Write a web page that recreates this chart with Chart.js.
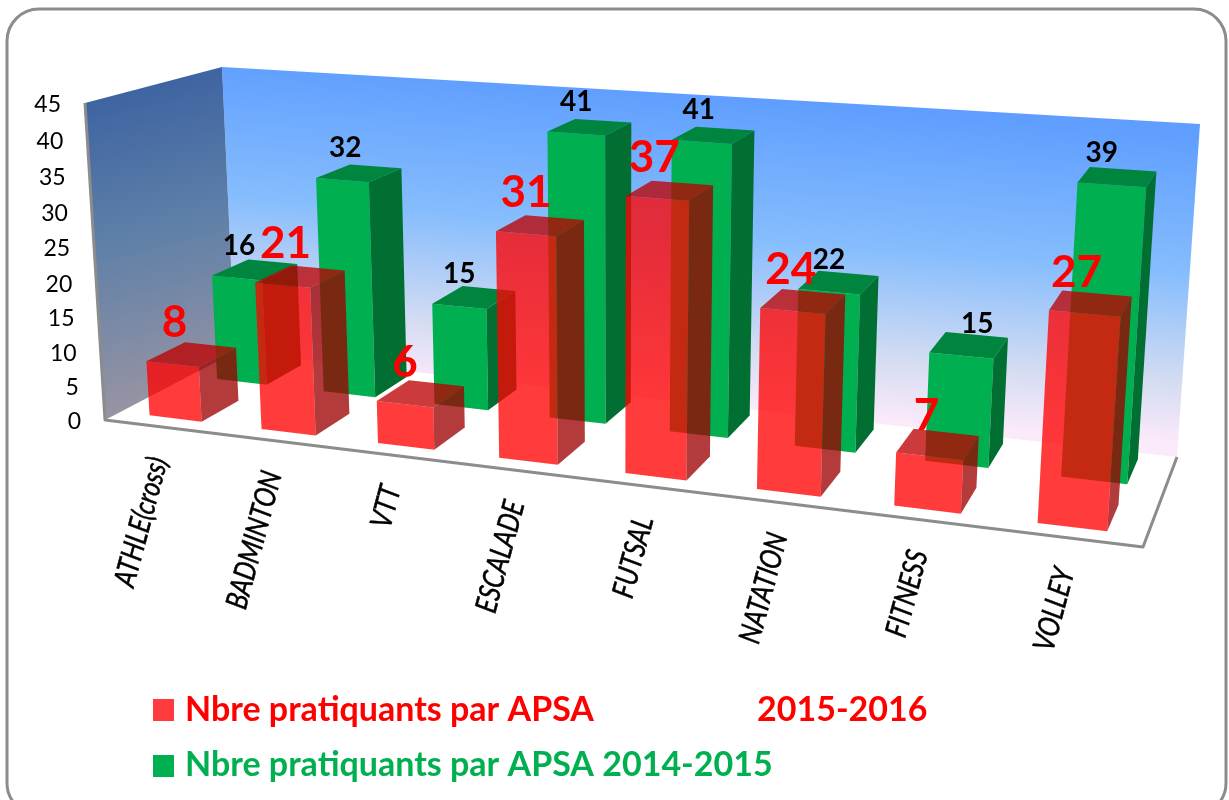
<!DOCTYPE html>
<html>
<head>
<meta charset="utf-8">
<title>Nbre pratiquants par APSA</title>
<script src="https://cdn.jsdelivr.net/npm/chart.js@4/dist/chart.umd.min.js"></script>
<style>
  html, body { margin: 0; padding: 0; background: #fff; overflow: hidden; }
  canvas { display: block; }
</style>
</head>
<body>
<canvas id="apsaChart" width="1229" height="800"></canvas>
<script>
// =============================
// DATA
// =============================
const categories = ["ATHLE(cross)", "BADMINTON", "VTT", "ESCALADE", "FUTSAL", "NATATION", "FITNESS", "VOLLEY"];
const pratiquants2016 = [8, 21, 6, 31, 37, 24, 7, 27];
const pratiquants2015 = [16, 32, 15, 41, 41, 22, 15, 39];
const legendText2016 = ["Nbre pratiquants par APSA", "2015-2016"];
const legendText2015 = ["Nbre pratiquants par APSA 2014-2015"];

// =============================
// 3D BOX (screen corners of the plot box)
// order: bottom-left, bottom-right, top-right, top-left
// =============================
const FRONT_PLANE = [[105, 420], [1143, 547], [1168, 176], [85, 103]];
const BACK_PLANE = [[235, 352], [1177, 457], [1200, 124], [222, 67]];

// depth of each series inside the box, 0 = front, 1 = back wall
const DEPTH_RED = [0.12, 0.42];
const DEPTH_GREEN = [0.65, 0.93];

const FONT = "Lato, 'Open Sans', sans-serif";

function squareToQuad(q) {
  const [[x0, y0], [x1, y1], [x2, y2], [x3, y3]] = q;
  const sx = x0 - x1 + x2 - x3, sy = y0 - y1 + y2 - y3;
  const dx1 = x1 - x2, dx2 = x3 - x2, dy1 = y1 - y2, dy2 = y3 - y2;
  const det = dx1 * dy2 - dx2 * dy1;
  const g = (sx * dy2 - dx2 * sy) / det;
  const h = (dx1 * sy - sx * dy1) / det;
  const a = x1 - x0 + g * x1, b = x3 - x0 + h * x3;
  const d = y1 - y0 + g * y1, e = y3 - y0 + h * y3;
  return (u, v) => {
    const w = g * u + h * v + 1;
    return [(a * u + b * v + x0) / w, (d * u + e * v + y0) / w];
  };
}
const frontMap = squareToQuad(FRONT_PLANE);
const backMap = squareToQuad(BACK_PLANE);

// chart-area pixel + depth -> screen pixel
function project(area, px, py, z) {
  const u = (px - area.left) / (area.right - area.left);
  const v = (area.bottom - py) / (area.bottom - area.top);
  const f = frontMap(u, v), b = backMap(u, v);
  return [f[0] + (b[0] - f[0]) * z, f[1] + (b[1] - f[1]) * z];
}

function poly(ctx, pts, fill) {
  ctx.beginPath();
  pts.forEach((p, i) => i ? ctx.lineTo(p[0], p[1]) : ctx.moveTo(p[0], p[1]));
  ctx.closePath();
  ctx.fillStyle = fill;
  ctx.fill();
}

function drawFrame(ctx) {
  ctx.save();
  ctx.beginPath();
  ctx.roundRect(7, 9, 1219, 806, 32);
  ctx.fillStyle = "#fff";
  ctx.fill();
  ctx.lineWidth = 3;
  ctx.strokeStyle = "#8c8c8c";
  ctx.stroke();
  ctx.restore();
}

function drawWalls(ctx) {
  const [fBL, fBR, , fTL] = FRONT_PLANE;
  const [bBL, bBR, bTR, bTL] = BACK_PLANE;

  let g = ctx.createLinearGradient(711, 95, 686, 405);
  g.addColorStop(0, "#5f9eff");
  g.addColorStop(0.45, "#86bdfd");
  g.addColorStop(0.8, "#d4dcf2");
  g.addColorStop(1, "#fbeafa");
  poly(ctx, [bBL, bBR, bTR, bTL], g);

  g = ctx.createLinearGradient(130, 90, 210, 400);
  g.addColorStop(0, "#3e64a2");
  g.addColorStop(0.45, "#5f80a8");
  g.addColorStop(1, "#9b95a3");
  poly(ctx, [fBL, bBL, bTL, fTL], g);

  ctx.save();
  ctx.strokeStyle = "#8c8c8c";
  ctx.lineWidth = 3;
  ctx.lineJoin = "round";
  ctx.beginPath();
  ctx.moveTo(fTL[0], fTL[1]);
  ctx.lineTo(fBL[0], fBL[1]);
  ctx.lineTo(fBR[0], fBR[1]);
  ctx.lineTo(bBR[0], bBR[1]);
  ctx.stroke();
  ctx.restore();
}

function drawBox(ctx, area, bar, depth, colors) {
  const x0 = bar.x - bar.width / 2, x1 = bar.x + bar.width / 2;
  const P = (x, y, z) => project(area, x, y, z);
  const [zf, zb] = depth;
  poly(ctx, [P(x0, bar.base, zf), P(x1, bar.base, zf), P(x1, bar.y, zf), P(x0, bar.y, zf)], colors.front);
  poly(ctx, [P(x1, bar.base, zf), P(x1, bar.base, zb), P(x1, bar.y, zb), P(x1, bar.y, zf)], colors.side);
  poly(ctx, [P(x0, bar.y, zf), P(x1, bar.y, zf), P(x1, bar.y, zb), P(x0, bar.y, zb)], colors.top);
}

const GREEN_FACES = { front: "#00b050", side: "#006f31", top: "#00853e" };
const RED_FACES = { front: "rgba(255,0,0,0.77)", side: "rgba(158,0,0,0.77)", top: "rgba(188,0,0,0.77)" };

// label nudges where the original labels sit off their bar
const RED_NUDGE = { 0: 2, 1: 3, 4: -3, 5: -2, 6: -3, 7: -8 };
const GREEN_NUDGE = { 0: 2, 1: 3, 4: -3, 6: 16, 7: -10 };

function drawValueLabels(ctx, area, meta, values, depth, opts) {
  ctx.font = opts.font;
  ctx.fillStyle = opts.color;
  ctx.textAlign = "center";
  ctx.textBaseline = "middle";
  meta.data.forEach((bar, i) => {
    const p = project(area, bar.x, bar.y, depth[0]);
    ctx.fillText(String(values[i]), p[0] + (opts.nudge[i] || 0), p[1] - opts.lift);
  });
}

function drawYTicks(ctx, chart) {
  const y = chart.scales.y, area = chart.chartArea;
  ctx.font = "23px " + FONT;
  ctx.fillStyle = "#000";
  ctx.textAlign = "right";
  ctx.textBaseline = "middle";
  y.ticks.forEach((t) => {
    const p = project(area, area.left, y.getPixelForValue(t.value), 0);
    ctx.fillText(String(t.value), p[0] - 24, p[1] + 2);
  });
}

function drawXTicks(ctx, chart) {
  const x = chart.scales.x, area = chart.chartArea;
  ctx.font = "italic 30px " + FONT;
  ctx.fillStyle = "#000";
  ctx.strokeStyle = "#000";
  ctx.lineWidth = 0.5;
  ctx.textAlign = "right";
  ctx.textBaseline = "middle";
  categories.forEach((name, i) => {
    const p = project(area, x.getPixelForTick(i), area.bottom, 0);
    ctx.save();
    ctx.translate(p[0] - 2, p[1] + 31);
    ctx.rotate(-75 * Math.PI / 180);
    ctx.scale(0.82, 1);
    ctx.fillText(name, 0, 0);
    ctx.strokeText(name, 0, 0);
    ctx.restore();
  });
}

function drawLegend(ctx) {
  ctx.font = "bold 34px " + FONT;
  ctx.textAlign = "left";
  ctx.textBaseline = "middle";
  ctx.fillStyle = "#ff3b40";
  ctx.fillRect(153, 699, 21, 22);
  ctx.fillStyle = "#ff0000";
  ctx.fillText(legendText2016[0], 185, 710);
  ctx.fillText(legendText2016[1], 757, 710);
  ctx.fillStyle = "#00b050";
  ctx.fillRect(153, 755, 21, 22);
  ctx.fillText(legendText2015[0], 185, 765);
}

// the flat bars laid out by Chart.js get redrawn here as boxes inside the 3D box
const box3dPlugin = {
  id: "box3d",
  beforeDatasetsDraw(chart) {
    const ctx = chart.ctx, area = chart.chartArea;
    const greenMeta = chart.getDatasetMeta(0);
    const redMeta = chart.getDatasetMeta(1);

    ctx.save();
    drawFrame(ctx);
    drawWalls(ctx);
    drawYTicks(ctx, chart);
    greenMeta.data.forEach((bar) => drawBox(ctx, area, bar, DEPTH_GREEN, GREEN_FACES));
    redMeta.data.forEach((bar) => drawBox(ctx, area, bar, DEPTH_RED, RED_FACES));
    drawValueLabels(ctx, area, greenMeta, pratiquants2015, DEPTH_GREEN,
      { font: "bold 28px " + FONT, color: "#000", lift: 32, nudge: GREEN_NUDGE });
    drawValueLabels(ctx, area, redMeta, pratiquants2016, DEPTH_RED,
      { font: "bold 44px " + FONT, color: "#ff0000", lift: 41, nudge: RED_NUDGE });
    drawXTicks(ctx, chart);
    drawLegend(ctx);
    ctx.restore();
    return false;
  }
};

new Chart(document.getElementById("apsaChart"), {
  type: "bar",
  data: {
    labels: categories,
    datasets: [
      { label: legendText2015[0], data: pratiquants2015, backgroundColor: "#00b050" },
      { label: legendText2016.join(" "), data: pratiquants2016, backgroundColor: "#ff3b40" }
    ]
  },
  options: {
    responsive: false,
    animation: false,
    layout: { padding: { left: 105, right: 86, top: 103, bottom: 380 } },
    datasets: { bar: { grouped: false, categoryPercentage: 1, barPercentage: 0.47 } },
    scales: {
      x: { display: false },
      y: { display: false, min: 0, max: 45, ticks: { stepSize: 5 } }
    },
    plugins: { legend: { display: false }, tooltip: { enabled: false } }
  },
  plugins: [box3dPlugin]
});
</script>
</body>
</html>
